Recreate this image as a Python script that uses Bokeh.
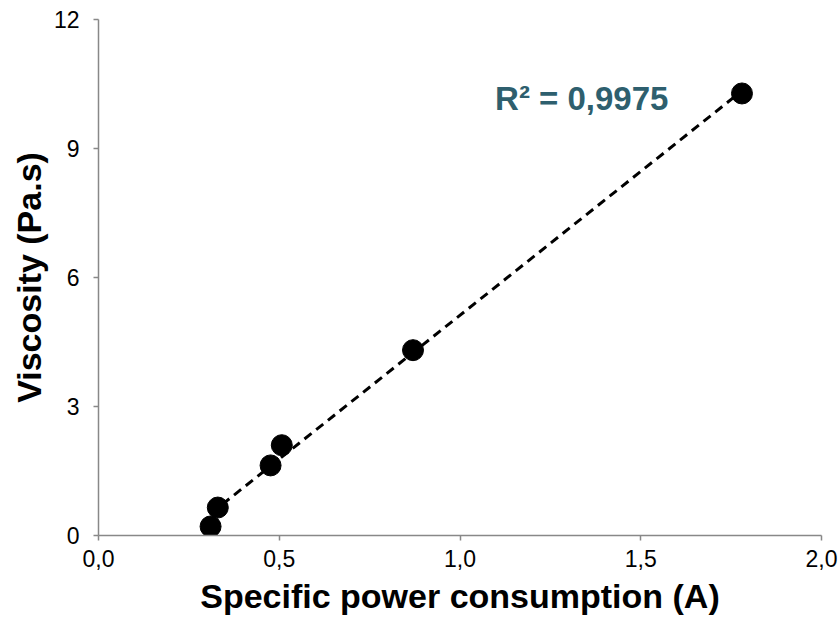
import numpy as np
from bokeh.plotting import figure
from bokeh.models import ColumnDataSource, CustomJSTickFormatter, FixedTicker, Label, Range1d
from bokeh.embed import file_html
from bokeh.resources import INLINE

power = [0.31, 0.33, 0.476, 0.507, 0.87, 1.78]
viscosity = [0.21, 0.65, 1.63, 2.1, 4.31, 10.28]
x_ticks = [0.0, 0.5, 1.0, 1.5, 2.0]
y_ticks = [0, 3, 6, 9, 12]
r2_text = "R² = 0,9975"

p = figure(width=838, height=621, output_backend="svg", toolbar_location=None,
           x_range=Range1d(0, 2.0), y_range=Range1d(0, 12),
           min_border_left=98, min_border_right=17, min_border_top=19, min_border_bottom=86)
p.outline_line_color = None
p.xgrid.visible = False
p.ygrid.visible = False

# trend line (least squares)
slope, intercept = np.polyfit(power, viscosity, 1)
xs = [min(power), max(power)]
ys = [slope * x + intercept for x in xs]
p.line(xs, ys, line_color="black", line_width=3, line_dash="9 6")

src = ColumnDataSource(dict(x=power, y=viscosity))
p.scatter("x", "y", source=src, size=21, fill_color="black", line_color="black")

p.axis.axis_line_color = "#888888"
p.axis.axis_line_width = 1.5
p.axis.major_tick_line_color = "#888888"
p.axis.major_tick_line_width = 1.5
p.axis.major_tick_out = 5
p.axis.major_tick_in = 0
p.axis.minor_tick_line_color = None
p.axis.major_label_text_font = "Liberation Sans"
p.axis.major_label_text_font_size = "23px"
p.axis.major_label_text_color = "black"
p.axis.axis_label_text_font = "Liberation Sans"
p.axis.axis_label_text_font_style = "bold"
p.axis.axis_label_text_font_size = "34px"
p.axis.axis_label_text_color = "black"

p.xaxis.ticker = FixedTicker(ticks=x_ticks)
p.yaxis.ticker = FixedTicker(ticks=y_ticks)
p.xaxis.formatter = CustomJSTickFormatter(code="return tick.toFixed(1).replace('.', ',');")
p.yaxis.formatter = CustomJSTickFormatter(code="return tick.toFixed(0);")
p.xaxis.axis_label = "Specific power consumption (A)"
p.yaxis.axis_label = "Viscosity (Pa.s)"
p.xaxis.major_label_standoff = 9
p.yaxis.major_label_standoff = 14
p.xaxis.axis_label_standoff = 7
p.yaxis.axis_label_standoff = 3

p.add_layout(Label(x=1.097, y=10.16, text=r2_text, text_font="Liberation Sans",
                   text_font_style="bold", text_font_size="33px", text_color="#2E5F6E",
                   text_baseline="alphabetic"))

open("out.html", "w").write(file_html(p, INLINE))
